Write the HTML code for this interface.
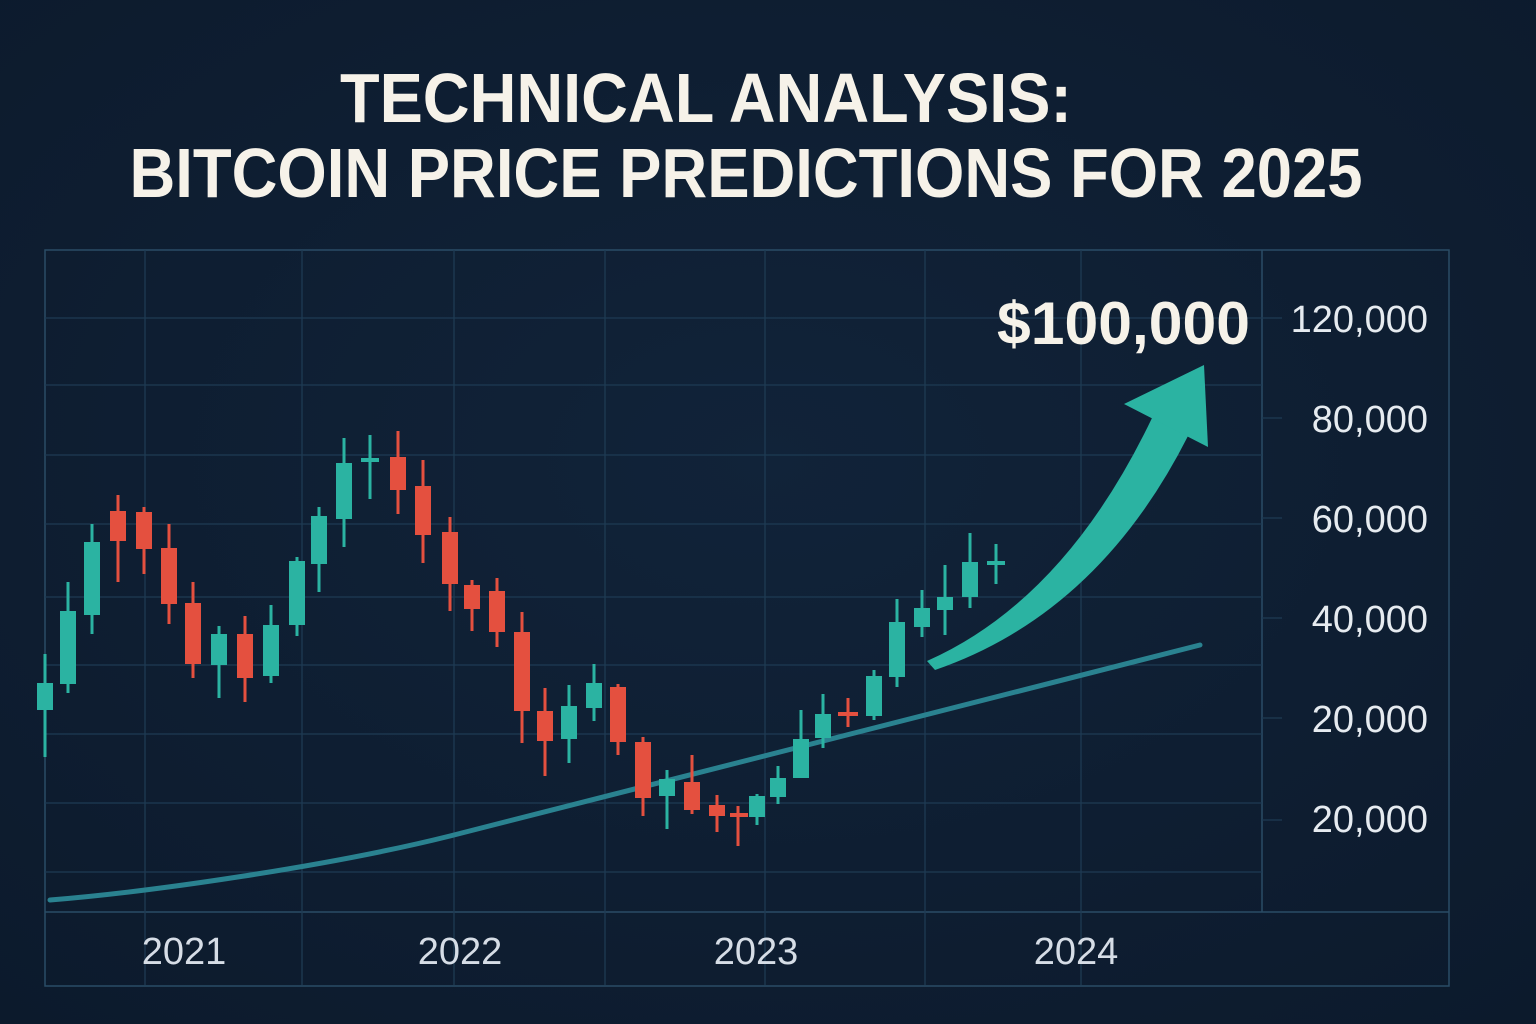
<!DOCTYPE html>
<html><head><meta charset="utf-8"><style>
html,body{margin:0;padding:0;background:#0f1f33;}
svg{display:block}
</style></head><body>
<svg width="1536" height="1024" viewBox="0 0 1536 1024" xmlns="http://www.w3.org/2000/svg">
<defs>
<radialGradient id="bg" cx="50%" cy="45%" r="75%">
<stop offset="0" stop-color="#112339"/><stop offset="1" stop-color="#0c1a2c"/>
</radialGradient>
</defs>
<rect width="1536" height="1024" fill="url(#bg)"/>
<g font-family="Liberation Sans, sans-serif" font-weight="bold" fill="#f6f2e9" text-anchor="middle">
<text x="706" y="122" font-size="70" textLength="732" lengthAdjust="spacingAndGlyphs">TECHNICAL ANALYSIS:</text>
<text x="746" y="197" font-size="70" textLength="1233" lengthAdjust="spacingAndGlyphs">BITCOIN PRICE PREDICTIONS FOR 2025</text>
</g>
<g stroke="#2a4c66" stroke-width="1.5" fill="none">
<rect x="45" y="250" width="1404" height="736"/>
<line x1="1262" y1="250" x2="1262" y2="912"/>
<line x1="45" y1="912" x2="1449" y2="912"/>
</g>
<g stroke="#1e3b53" stroke-width="1.3">
<line x1="45" y1="318" x2="1262" y2="318"/>
<line x1="45" y1="385" x2="1262" y2="385"/>
<line x1="45" y1="455" x2="1262" y2="455"/>
<line x1="45" y1="524" x2="1262" y2="524"/>
<line x1="45" y1="597" x2="1262" y2="597"/>
<line x1="45" y1="665" x2="1262" y2="665"/>
<line x1="45" y1="734" x2="1262" y2="734"/>
<line x1="45" y1="803" x2="1262" y2="803"/>
<line x1="45" y1="872" x2="1262" y2="872"/>
<line x1="145" y1="250" x2="145" y2="985"/>
<line x1="302" y1="250" x2="302" y2="985"/>
<line x1="454" y1="250" x2="454" y2="985"/>
<line x1="605" y1="250" x2="605" y2="985"/>
<line x1="765" y1="250" x2="765" y2="985"/>
<line x1="925" y1="250" x2="925" y2="985"/>
<line x1="1081" y1="250" x2="1081" y2="985"/>
<line x1="1262" y1="318" x2="1282" y2="318"/>
<line x1="1262" y1="418" x2="1282" y2="418"/>
<line x1="1262" y1="518" x2="1282" y2="518"/>
<line x1="1262" y1="618" x2="1282" y2="618"/>
<line x1="1262" y1="718" x2="1282" y2="718"/>
<line x1="1262" y1="820" x2="1282" y2="820"/>
</g>
<path d="M50,900 C150,892 330,866 450,836 L1200,645" stroke="#2a8290" stroke-width="5" fill="none" stroke-linecap="round"/>
<g stroke-width="3">
<g fill="#2bb3a2" stroke="#2bb3a2">
<line x1="45" y1="654" x2="45" y2="757"/><rect x="37" y="683" width="16" height="27" stroke="none"/>
<line x1="68" y1="582" x2="68" y2="693"/><rect x="60" y="611" width="16" height="73" stroke="none"/>
<line x1="92" y1="524" x2="92" y2="634"/><rect x="84" y="542" width="16" height="73" stroke="none"/>
<line x1="219" y1="626" x2="219" y2="698"/><rect x="211" y="634" width="16" height="31" stroke="none"/>
<line x1="271" y1="605" x2="271" y2="683"/><rect x="263" y="625" width="16" height="51" stroke="none"/>
<line x1="297" y1="557" x2="297" y2="636"/><rect x="289" y="561" width="16" height="64" stroke="none"/>
<line x1="319" y1="507" x2="319" y2="592"/><rect x="311" y="516" width="16" height="48" stroke="none"/>
<line x1="344" y1="438" x2="344" y2="547"/><rect x="336" y="463" width="16" height="56" stroke="none"/>
<line x1="370" y1="435" x2="370" y2="499"/><rect x="361" y="458" width="18" height="4" stroke="none"/>
<line x1="569" y1="685" x2="569" y2="763"/><rect x="561" y="706" width="16" height="33" stroke="none"/>
<line x1="594" y1="664" x2="594" y2="721"/><rect x="586" y="683" width="16" height="25" stroke="none"/>
<line x1="667" y1="770" x2="667" y2="829"/><rect x="659" y="779" width="16" height="17" stroke="none"/>
<line x1="757" y1="794" x2="757" y2="825"/><rect x="749" y="796" width="16" height="21" stroke="none"/>
<line x1="778" y1="766" x2="778" y2="804"/><rect x="770" y="778" width="16" height="19" stroke="none"/>
<line x1="801" y1="710" x2="801" y2="778"/><rect x="793" y="739" width="16" height="39" stroke="none"/>
<line x1="823" y1="694" x2="823" y2="748"/><rect x="815" y="714" width="16" height="24" stroke="none"/>
<line x1="874" y1="670" x2="874" y2="720"/><rect x="866" y="676" width="16" height="40" stroke="none"/>
<line x1="897" y1="599" x2="897" y2="687"/><rect x="889" y="622" width="16" height="55" stroke="none"/>
<line x1="922" y1="590" x2="922" y2="637"/><rect x="914" y="608" width="16" height="19" stroke="none"/>
<line x1="945" y1="565" x2="945" y2="635"/><rect x="937" y="597" width="16" height="13" stroke="none"/>
<line x1="970" y1="533" x2="970" y2="608"/><rect x="962" y="562" width="16" height="35" stroke="none"/>
<line x1="996" y1="544" x2="996" y2="584"/><rect x="987" y="561" width="18" height="4" stroke="none"/>
</g>
<g fill="#e4503f" stroke="#e4503f">
<line x1="118" y1="495" x2="118" y2="582"/><rect x="110" y="511" width="16" height="30" stroke="none"/>
<line x1="144" y1="507" x2="144" y2="574"/><rect x="136" y="512" width="16" height="37" stroke="none"/>
<line x1="169" y1="524" x2="169" y2="624"/><rect x="161" y="548" width="16" height="56" stroke="none"/>
<line x1="193" y1="582" x2="193" y2="678"/><rect x="185" y="603" width="16" height="61" stroke="none"/>
<line x1="245" y1="616" x2="245" y2="702"/><rect x="237" y="634" width="16" height="44" stroke="none"/>
<line x1="398" y1="431" x2="398" y2="514"/><rect x="390" y="457" width="16" height="33" stroke="none"/>
<line x1="423" y1="460" x2="423" y2="563"/><rect x="415" y="486" width="16" height="49" stroke="none"/>
<line x1="450" y1="517" x2="450" y2="611"/><rect x="442" y="532" width="16" height="52" stroke="none"/>
<line x1="472" y1="580" x2="472" y2="631"/><rect x="464" y="585" width="16" height="24" stroke="none"/>
<line x1="497" y1="578" x2="497" y2="647"/><rect x="489" y="591" width="16" height="41" stroke="none"/>
<line x1="522" y1="612" x2="522" y2="743"/><rect x="514" y="632" width="16" height="79" stroke="none"/>
<line x1="545" y1="688" x2="545" y2="776"/><rect x="537" y="711" width="16" height="30" stroke="none"/>
<line x1="618" y1="684" x2="618" y2="755"/><rect x="610" y="687" width="16" height="55" stroke="none"/>
<line x1="643" y1="737" x2="643" y2="816"/><rect x="635" y="742" width="16" height="56" stroke="none"/>
<line x1="692" y1="755" x2="692" y2="814"/><rect x="684" y="782" width="16" height="28" stroke="none"/>
<line x1="717" y1="795" x2="717" y2="832"/><rect x="709" y="805" width="16" height="11" stroke="none"/>
<line x1="738" y1="806" x2="738" y2="846"/><rect x="730" y="813" width="18" height="4" stroke="none"/>
<line x1="848" y1="698" x2="848" y2="727"/><rect x="838" y="712" width="20" height="4" stroke="none"/>
</g>
</g>
<g fill="#2bb3a2">
<path d="M927,661 Q1065,600 1152,418 L1188,436 Q1098,614 935,670 Z"/>
<polygon points="1124,404 1204,365 1208,447"/>
</g>
<text x="1250" y="344" font-family="Liberation Sans, sans-serif" font-weight="bold" font-size="60" fill="#f6f2e9" text-anchor="end" textLength="253" lengthAdjust="spacingAndGlyphs">$100,000</text>
<g font-family="Liberation Sans, sans-serif" font-size="38" fill="#e6ebf0" text-anchor="end">
<text x="1428" y="332">120,000</text>
<text x="1428" y="432">80,000</text>
<text x="1428" y="532">60,000</text>
<text x="1428" y="632">40,000</text>
<text x="1428" y="732">20,000</text>
<text x="1428" y="832">20,000</text>
</g>
<g font-family="Liberation Sans, sans-serif" font-size="38" fill="#d6dde6" text-anchor="middle">
<text x="184" y="964">2021</text>
<text x="460" y="964">2022</text>
<text x="756" y="964">2023</text>
<text x="1076" y="964">2024</text>
</g>
</svg>
</body></html>
